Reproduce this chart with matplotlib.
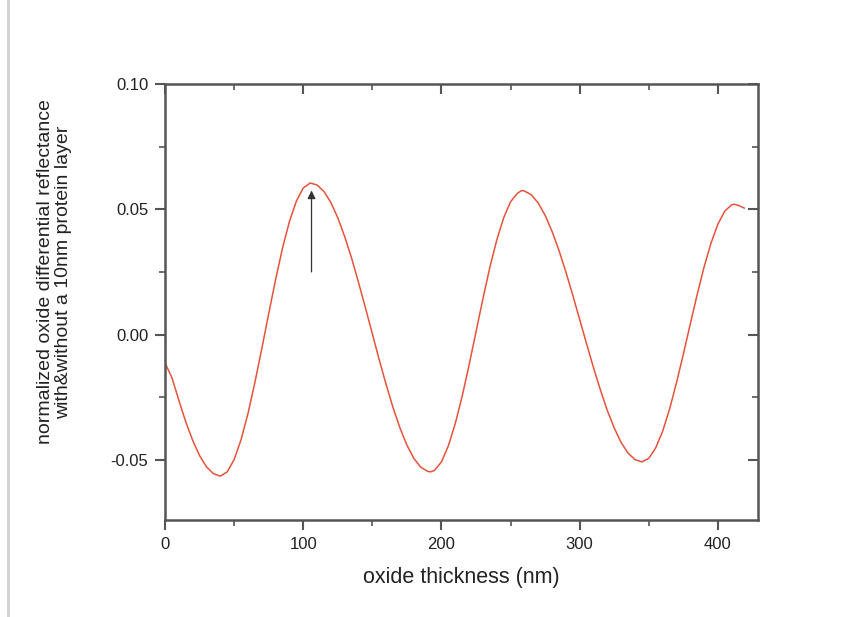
import matplotlib
matplotlib.use("Agg")
import matplotlib.pyplot as plt
from matplotlib.lines import Line2D

plt.rcParams['font.family'] = ['Liberation Sans', 'DejaVu Sans']

thickness = [0, 5, 10, 15, 20, 25, 30, 35, 40, 45, 50, 55, 60, 65, 70, 75, 80, 85, 90, 95,
             100, 105, 110, 115, 120, 125, 130, 135, 140, 145, 150, 155, 160, 165, 170, 175,
             180, 185, 190, 192, 195, 200, 205, 210, 215, 220, 225, 230, 235, 240, 245, 250,
             255, 258, 260, 265, 270, 275, 280, 285, 290, 295, 300, 305, 310, 315, 320, 325,
             330, 335, 340, 345, 350, 355, 360, 365, 370, 375, 380, 385, 390, 395, 400, 405,
             410, 412, 415, 419]
reflectance = [-0.0113, -0.0172, -0.0262, -0.0348, -0.0422, -0.0483, -0.0528, -0.0555, -0.0565,
               -0.0548, -0.0499, -0.0420, -0.0316, -0.0192, -0.0057, 0.0083, 0.0219, 0.0345,
               0.0451, 0.0532, 0.0585, 0.0605, 0.0597, 0.0571, 0.0527, 0.0466, 0.0391, 0.0305,
               0.0208, 0.0107, 0.0003, -0.0101, -0.0200, -0.0292, -0.0373, -0.0441, -0.0494,
               -0.0529, -0.0546, -0.0548, -0.0542, -0.0508, -0.0444, -0.0355, -0.0246, -0.0121,
               0.0011, 0.0143, 0.0268, 0.0377, 0.0466, 0.0530, 0.0564, 0.0575, 0.0573, 0.0558,
               0.0525, 0.0476, 0.0412, 0.0336, 0.0250, 0.0157, 0.0060, -0.0037, -0.0132, -0.0221,
               -0.0303, -0.0373, -0.0431, -0.0473, -0.0499, -0.0508, -0.0494, -0.0452, -0.0386,
               -0.0298, -0.0193, -0.0078, 0.0042, 0.0160, 0.0270, 0.0365, 0.0441, 0.0493, 0.0518,
               0.0520, 0.0515, 0.0505]

xticks = [0, 100, 200, 300, 400]
xminor = [50, 150, 250, 350]
yticks = [-0.05, 0.00, 0.05, 0.10]
ytick_labels = ['-0.05', '0.00', '0.05', '0.10']
yminor = [-0.025, 0.025, 0.075]

arrow_x = 106
arrow_tail = 0.025
arrow_head = 0.0575

fig = plt.figure(figsize=(8.65, 6.17), dpi=100)
ax = fig.add_axes([165/865, 1-520/617, (758-165)/865, (520-84)/617])

ax.plot(thickness, reflectance, color='#e5533a', lw=1.1)

ax.annotate('', xy=(arrow_x, arrow_head), xytext=(arrow_x, arrow_tail),
            arrowprops=dict(arrowstyle='-|>', color='#333333', lw=0.9,
                            mutation_scale=12, shrinkA=0, shrinkB=0))

ax.set_xlim(0, 429)
ax.set_ylim(-0.074, 0.10)
ax.set_xticks(xticks)
ax.set_xticks(xminor, minor=True)
ax.set_yticks(yticks)
ax.set_yticklabels(ytick_labels)
ax.set_yticks(yminor, minor=True)

spine_col = '#555555'
for s in ax.spines.values():
    s.set_color(spine_col)
    s.set_linewidth(1.8)

ax.tick_params(which='major', direction='out', length=7, width=1.5, color=spine_col,
               labelsize=12, labelcolor='#222222', pad=5)
ax.tick_params(which='minor', direction='out', length=4, width=1.2, color=spine_col)

top = ax.secondary_xaxis('top')
top.set_xticks(xticks)
top.set_xticks(xminor, minor=True)
top.tick_params(which='major', direction='in', length=7, width=1.5, color=spine_col, labeltop=False)
top.tick_params(which='minor', direction='in', length=4, width=1.2, color=spine_col)
top.spines['top'].set_visible(False)

right = ax.secondary_yaxis('right')
right.set_yticks(yticks)
right.set_yticks(yminor, minor=True)
right.tick_params(which='major', direction='in', length=7, width=1.5, color=spine_col, labelright=False)
right.tick_params(which='minor', direction='in', length=4, width=1.2, color=spine_col)
right.spines['right'].set_visible(False)

ax.set_xlabel('oxide thickness (nm)', fontsize=15.5, color='#222222')
ax.xaxis.set_label_coords(0.5, -0.108)
ax.set_ylabel('normalized oxide differential reflectance\nwith&without a 10nm protein layer',
              fontsize=14, color='#222222', linespacing=1.05)
ax.yaxis.set_label_coords(-0.157, 0.569)

fig.add_artist(Line2D([8/865, 8/865], [0, 1], transform=fig.transFigure,
                      color='#d0d0d0', lw=2))

fig.savefig('out.png', dpi=100)
